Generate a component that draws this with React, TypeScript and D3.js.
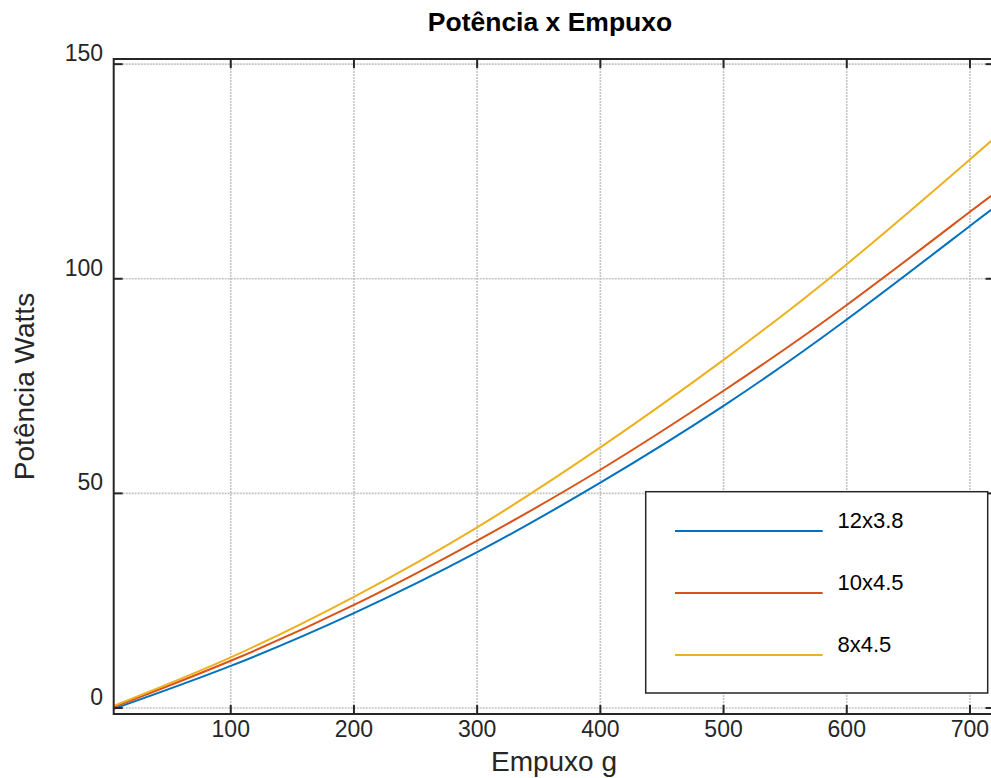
import React from "react";
import * as d3 from "d3";

// thrust (g) and power (W)
const thrust = [5, 100, 200, 300, 400, 500, 600, 700, 720];
const p12x38 = [-0.2, 9.8, 22.1, 36.3, 52.5, 70.4, 90.5, 112.3, 116.5];
const p10x45 = [0.2, 11.0, 24.0, 39.0, 55.5, 73.9, 93.9, 115.6, 119.8];
const p8x45 = [0.5, 11.8, 25.9, 42.1, 60.7, 81.1, 103.4, 127.8, 132.8];

const seriesNames = ["12x3.8", "10x4.5", "8x4.5"];
const seriesColors = ["#0072BD", "#D95319", "#EDB120"];
const xTicks = [100, 200, 300, 400, 500, 600, 700];
const yTicks = [0, 50, 100, 150];

const W = 991;
const H = 778;
const FONT = "'Liberation Sans', Arial, Helvetica, sans-serif";
const INK = "#262626";

export default function App() {
  const left = 113.7, right = 994.6, top = 59, bottom = 714;

  const x = d3.scaleLinear().domain([5, 720]).range([left, right]);
  const y = d3.scaleLinear().domain([-1.4, 151.2]).range([bottom, top]);

  const allSeries = [p12x38, p10x45, p8x45];
  const line = (vals) =>
    d3.line()
      .x((_, i) => x(thrust[i]))
      .y((d) => y(d))
      .curve(d3.curveNatural)(vals);

  const tick = 9;

  return (
    <div style={{ position: "absolute", left: 0, top: 0 }}>
      <svg width={W} height={H} style={{ display: "block", background: "#fff" }} fontFamily={FONT}>
        <defs>
          <clipPath id="plot">
            <rect x={left} y={top} width={right - left} height={bottom - top} />
          </clipPath>
        </defs>

        {/* grid */}
        <g stroke="#c4c4c4" strokeWidth={1.6} strokeDasharray="2,1">
          {xTicks.map((t) => (
            <line key={"gx" + t} x1={x(t)} x2={x(t)} y1={top} y2={bottom} />
          ))}
          {yTicks.map((t) => (
            <line key={"gy" + t} x1={left} x2={right} y1={y(t)} y2={y(t)} />
          ))}
        </g>

        {/* curves */}
        <g clipPath="url(#plot)" fill="none" strokeWidth={2}>
          {allSeries.map((s, i) => (
            <path key={i} d={line(s)} stroke={seriesColors[i]} />
          ))}
        </g>

        {/* frame and ticks */}
        <g stroke={INK} strokeWidth={2}>
          <rect x={left} y={top} width={right - left} height={bottom - top} fill="none" />
          {xTicks.map((t) => (
            <g key={"tx" + t}>
              <line x1={x(t)} x2={x(t)} y1={bottom} y2={bottom - tick} />
              <line x1={x(t)} x2={x(t)} y1={top} y2={top + tick} />
            </g>
          ))}
          {yTicks.map((t) => (
            <g key={"ty" + t}>
              <line x1={left} x2={left + tick} y1={y(t)} y2={y(t)} />
              <line x1={right} x2={right - tick} y1={y(t)} y2={y(t)} />
            </g>
          ))}
        </g>

        {/* tick labels */}
        <g fill={INK} fontSize={23}>
          {xTicks.map((t) => (
            <text key={"lx" + t} x={x(t)} y={737} textAnchor="middle">{t}</text>
          ))}
          {yTicks.map((t) => (
            <text key={"ly" + t} x={103} y={y(t) - 3} textAnchor="end">{t}</text>
          ))}
        </g>

        {/* titles */}
        <text x={550} y={31} textAnchor="middle" fontSize={26.5} fontWeight="bold" fill="#000">
          Potência x Empuxo
        </text>
        <text x={554} y={771} textAnchor="middle" fontSize={28} fill={INK}>
          Empuxo g
        </text>
        <text
          transform={`translate(34, ${(top + bottom) / 2}) rotate(-90)`}
          textAnchor="middle"
          fontSize={28}
          fill={INK}
        >
          Potência Watts
        </text>

        {/* legend */}
        <g>
          <rect x={645.7} y={491.7} width={342} height={201.3} fill="#fff" stroke={INK} strokeWidth={1.5} />
          {seriesNames.map((n, i) => {
            const ly = 531 + i * 62;
            return (
              <g key={n}>
                <line x1={675} x2={822.7} y1={ly} y2={ly} stroke={seriesColors[i]} strokeWidth={2} />
                <text x={837.5} y={ly - 3} fontSize={22} fill="#000">{n}</text>
              </g>
            );
          })}
        </g>
      </svg>
    </div>
  );
}
